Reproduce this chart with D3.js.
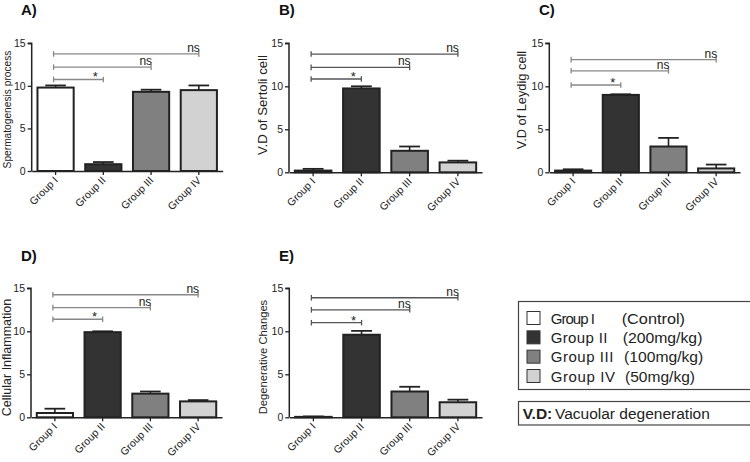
<!DOCTYPE html>
<html><head><meta charset="utf-8">
<script src="https://cdn.jsdelivr.net/npm/d3@7"></script>
<style>body{margin:0;background:#fff}svg{display:block;font-family:"Liberation Sans",Arial,sans-serif}</style>
</head><body>
<svg id="chart" width="750" height="462"></svg>
<script>
const groups = ["Group I", "Group II", "Group III", "Group IV"];
const doses = ["(Control)", "(200mg/kg)", "(100mg/kg)", "(50mg/kg)"];
const yTicks = [0, 5, 10, 15];
const panelLetters = ["A)", "B)", "C)", "D)", "E)"];
const yTitles = ["Spermatogenesis process", "V.D of Sertoli cell", "V.D of Leydig cell", "Cellular Inflammation", "Degenerative Changes"];
const meansA = [9.8, 0.8, 9.3, 9.5];
const errA = [0.25, 0.25, 0.25, 0.55];
const meansB = [0.2, 9.75, 2.5, 1.15];
const errB = [0.2, 0.25, 0.5, 0.2];
const meansC = [0.2, 9.0, 3.0, 0.45];
const errC = [0.15, 0.07, 1.0, 0.45];
const meansD = [0.5, 9.9, 2.75, 1.85];
const errD = [0.5, 0.1, 0.25, 0.15];
const meansE = [0.05, 9.6, 3.0, 1.75];
const errE = [0.05, 0.45, 0.55, 0.3];
const sigTargets = ["Group II", "Group III", "Group IV"];
const sigLabels = ["*", "ns", "ns"];
const sigA = [10.75, 12.2, 13.75];
const sigB = [10.85, 12.2, 13.75];
const sigC = [10.15, 11.8, 13.1];
const sigD = [11.4, 12.75, 14.25];
const sigE = [11.0, 12.5, 13.9];

const fills = ["#ffffff", "#333333", "#808080", "#d2d2d2"];

const layouts = [
  {x0: 31.7, x1: 222.7, yb: 171, yt: 43.3, lx: 21, ly: 15, tx: 10.5, ty: 109.5, tf: 10.2, sc: "#888"},
  {x0: 289, x1: 482, yb: 172.3, yt: 43.3, lx: 279, ly: 15, tx: 266.5, ty: 105, tf: 13.2, sc: "#555"},
  {x0: 549.3, x1: 740, yb: 172.3, yt: 43.3, lx: 539, ly: 15, tx: 526, ty: 100, tf: 12.8, sc: "#888"},
  {x0: 31, x1: 222, yb: 417.3, yt: 288.3, lx: 21, ly: 261, tx: 10.5, ty: 357.5, tf: 12.5, sc: "#888"},
  {x0: 289.3, x1: 482, yb: 417.3, yt: 288.3, lx: 279, ly: 261, tx: 266.5, ty: 357, tf: 11.2, sc: "#555"}
];
const means = [meansA, meansB, meansC, meansD, meansE];
const errs = [errA, errB, errC, errD, errE];
const sigs = [sigA, sigB, sigC, sigD, sigE];

const svg = d3.select("#chart");
const ink = "#222";

layouts.forEach((L, p) => {
  const g = svg.append("g");
  const x = d3.scaleBand().domain(groups).range([L.x0, L.x1]).paddingInner(0.2).paddingOuter(0.1);
  const y = d3.scaleLinear().domain([0, 15]).range([L.yb, L.yt]);

  g.append("text").attr("x", L.lx).attr("y", L.ly).attr("font-size", 15).attr("font-weight", "bold")
    .attr("fill", "#111").text(panelLetters[p]);
  g.append("text").attr("transform", `translate(${L.tx},${L.ty}) rotate(-90)`).attr("text-anchor", "middle")
    .attr("font-size", L.tf).attr("fill", ink).text(yTitles[p]);

  const data = groups.map((k, i) => ({k, m: means[p][i], e: errs[p][i], f: fills[i]}));
  const bw = x.bandwidth();
  data.forEach(d => {
    const cx = x(d.k) + bw / 2;
    g.append("line").attr("x1", cx).attr("x2", cx).attr("y1", y(d.m)).attr("y2", y(d.m + d.e))
      .attr("stroke", ink).attr("stroke-width", 1.6);
    g.append("line").attr("x1", cx - bw * 0.27).attr("x2", cx + bw * 0.27).attr("y1", y(d.m + d.e)).attr("y2", y(d.m + d.e))
      .attr("stroke", ink).attr("stroke-width", 1.8);
  });
  g.selectAll("rect.bar").data(data).join("rect").attr("class", "bar")
    .attr("x", d => x(d.k) + 1).attr("width", bw - 2)
    .attr("y", d => y(d.m)).attr("height", d => Math.max(0, y(0) - y(d.m)))
    .attr("fill", d => d.f).attr("stroke", ink).attr("stroke-width", 2);

  const ya = d3.axisLeft(y).tickValues(yTicks).tickSize(4).tickPadding(2);
  const yg = g.append("g").attr("transform", `translate(${L.x0},0)`).call(ya);
  yg.select(".domain").attr("stroke", ink).attr("stroke-width", 1.5).attr("d", `M-4,${L.yt}H0V${L.yb}`);
  yg.selectAll(".tick line").attr("stroke", ink).attr("stroke-width", 1.3);
  yg.selectAll(".tick text").attr("font-size", 10.5).attr("font-family", "Liberation Sans, Arial, sans-serif").attr("fill", ink);

  const xa = d3.axisBottom(x).tickSize(4).tickSizeOuter(0).tickPadding(2);
  const xg = g.append("g").attr("transform", `translate(0,${L.yb})`).call(xa);
  xg.select(".domain").attr("stroke", ink).attr("stroke-width", 1.5);
  xg.selectAll(".tick line").attr("stroke", ink).attr("stroke-width", 1.3);
  xg.selectAll(".tick text").attr("font-size", 10.5).attr("font-family", "Liberation Sans, Arial, sans-serif").attr("fill", ink)
    .attr("text-anchor", "end").attr("dy", null).attr("y", 0)
    .attr("transform", "translate(3,10) rotate(-45)");

  const x0c = x(groups[0]) + bw / 2 - 2;
  sigTargets.forEach((t, i) => {
    const xe = x(t) + bw / 2;
    const yy = y(sigs[p][i]);
    const sg = g.append("g").attr("stroke", L.sc).attr("stroke-width", 1.3);
    sg.append("line").attr("x1", x0c).attr("x2", xe).attr("y1", yy).attr("y2", yy);
    sg.append("line").attr("x1", x0c).attr("x2", x0c).attr("y1", yy - 2.8).attr("y2", yy + 2.8);
    sg.append("line").attr("x1", xe).attr("x2", xe).attr("y1", yy - 2.8).attr("y2", yy + 2.8);
    if (sigLabels[i] === "*") {
      g.append("text").attr("x", xe - 8).attr("y", yy + 2).attr("text-anchor", "middle")
        .attr("font-size", 13).attr("fill", ink).text("*");
    } else {
      g.append("text").attr("x", xe + 1).attr("y", yy - 2).attr("text-anchor", "end")
        .attr("font-size", 12).attr("fill", ink).text(sigLabels[i]);
    }
  });
});

// legend
const lg = svg.append("g");
lg.append("rect").attr("x", 518.5).attr("y", 301.5).attr("width", 240).attr("height", 88)
  .attr("fill", "none").attr("stroke", "#444").attr("stroke-width", 1.2);
const rowY = d3.scalePoint().domain(groups).range([318, 376]);
const groupW = [44.3, 56.7, 62.7, 64.3];
const doseX = [621.7, 622.7, 624, 625];
const doseW = [63.3, 79.7, 79.3, 70];
groups.forEach((k, i) => {
  const cy = rowY(k);
  lg.append("rect").attr("x", 527).attr("y", cy - 6.5).attr("width", 13).attr("height", 13)
    .attr("fill", fills[i]).attr("stroke", "#333").attr("stroke-width", 1);
  lg.append("text").attr("x", 550.7).attr("y", cy + 5.5).attr("font-size", 15).attr("fill", "#222")
    .attr("textLength", groupW[i]).attr("lengthAdjust", "spacing").text(k);
  lg.append("text").attr("x", doseX[i]).attr("y", cy + 5.5).attr("font-size", 15).attr("fill", "#222")
    .attr("textLength", doseW[i]).attr("lengthAdjust", "spacingAndGlyphs").text(doses[i]);
});
lg.append("rect").attr("x", 518.5).attr("y", 401.5).attr("width", 240).attr("height", 23.5)
  .attr("fill", "none").attr("stroke", "#444").attr("stroke-width", 1.2);
const vd = lg.append("text").attr("x", 522.7).attr("y", 419).attr("font-size", 15.5).attr("fill", "#222");
vd.append("tspan").attr("font-weight", "bold").text("V.D:");
vd.append("tspan").attr("x", 555).text("Vacuolar degeneration");
</script>
</body></html>
